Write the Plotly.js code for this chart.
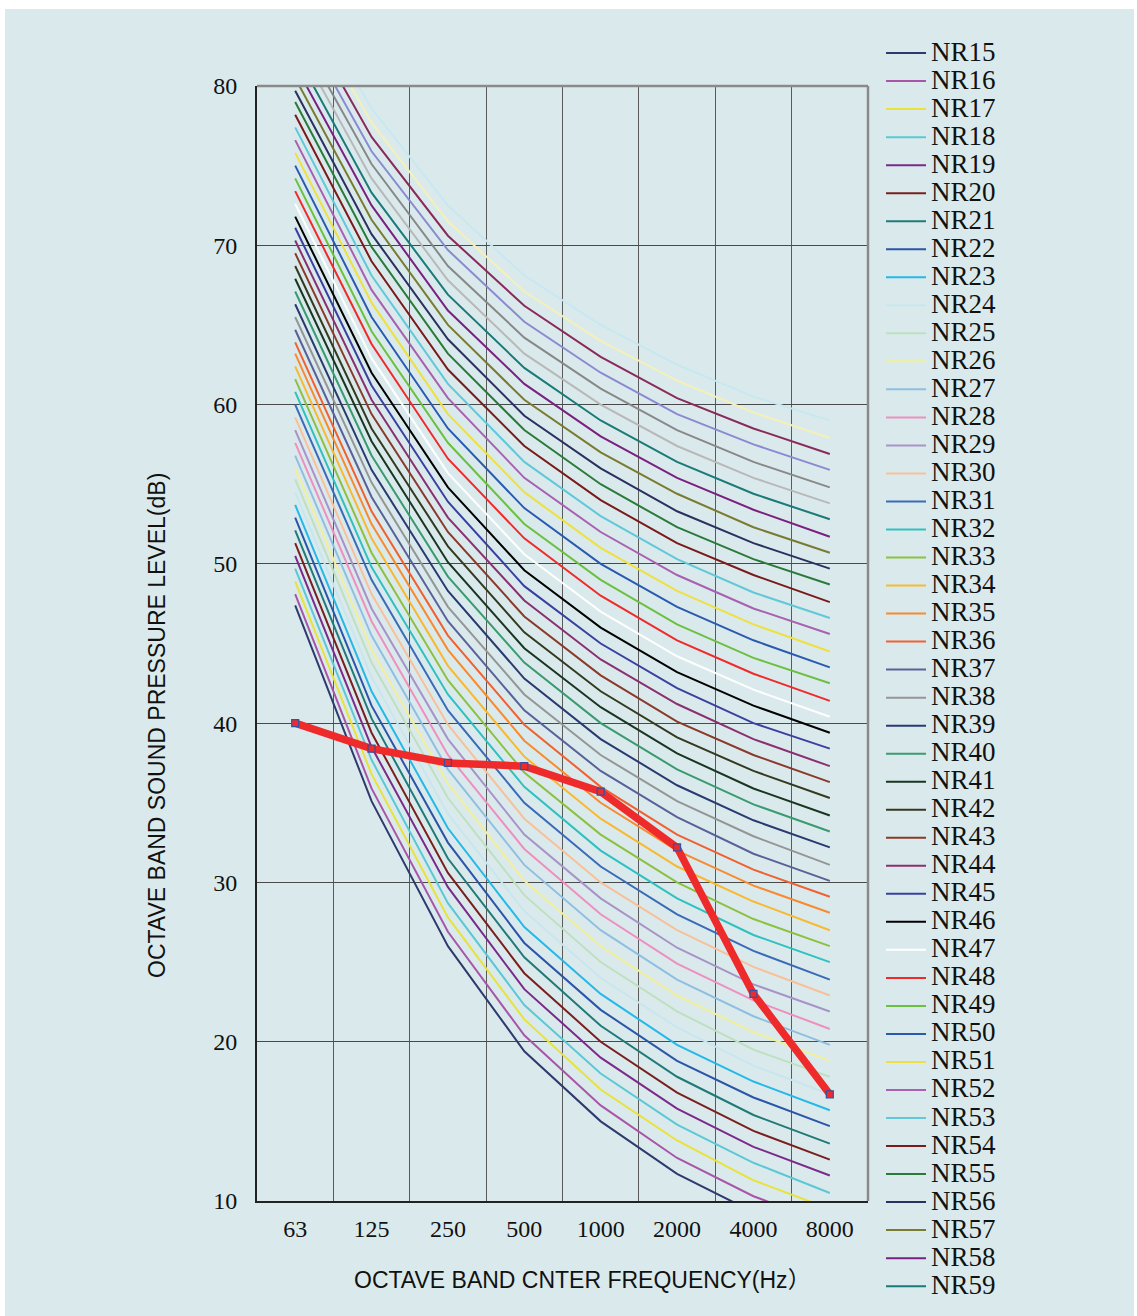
<!DOCTYPE html>
<html>
<head>
<meta charset="utf-8">
<script src="https://cdn.plot.ly/plotly-3.0.1.min.js"></script>
<style>
  html, body { margin: 0; padding: 0; background: #ffffff; }
  #chart { position: absolute; left: 5px; top: 9px; width: 1129px; height: 1307px; }
</style>
</head>
<body>
<div id="chart"></div>
<script>
// Octave band centre frequencies (category labels)
const freqs = ['63', '125', '250', '500', '1000', '2000', '4000', '8000'];

// Curve names NR15 ... NR65 (NR60-NR65 drawn but not listed in the legend)
const nrNames = ['NR15','NR16','NR17','NR18','NR19','NR20','NR21','NR22','NR23','NR24',
  'NR25','NR26','NR27','NR28','NR29','NR30','NR31','NR32','NR33','NR34',
  'NR35','NR36','NR37','NR38','NR39','NR40','NR41','NR42','NR43','NR44',
  'NR45','NR46','NR47','NR48','NR49','NR50','NR51','NR52','NR53','NR54',
  'NR55','NR56','NR57','NR58','NR59','NR60','NR61','NR62','NR63','NR64','NR65'];

// Sound pressure level (dB) of each curve, one array per octave band, NR15 ... NR65
const L63 = [47.4,48.1,48.9,49.7,50.5,51.3,52.1,52.9,53.7,54.5,55.3,56.0,56.8,57.6,58.4,59.2,60.0,60.8,61.6,62.4,
  63.2,63.9,64.7,65.5,66.3,67.1,67.9,68.7,69.5,70.3,71.1,71.8,72.6,73.4,74.2,75.0,75.8,76.6,77.4,78.2,
  79.0,79.7,80.5,81.3,82.1,82.9,83.7,84.5,85.3,86.1,86.9];
const L125 = [35.1,35.9,36.8,37.7,38.5,39.4,40.3,41.1,42.0,42.9,43.8,44.6,45.5,46.4,47.2,48.1,49.0,49.8,50.7,51.6,
  52.5,53.3,54.2,55.1,55.9,56.8,57.7,58.5,59.4,60.3,61.2,62.0,62.9,63.8,64.6,65.5,66.4,67.2,68.1,69.0,
  69.9,70.7,71.6,72.5,73.3,74.2,75.1,75.9,76.8,77.7,78.6];
const L250 = [26.0,26.9,27.8,28.7,29.7,30.6,31.5,32.5,33.4,34.3,35.3,36.2,37.1,38.0,39.0,39.9,40.8,41.8,42.7,43.6,
  44.6,45.5,46.4,47.3,48.3,49.2,50.1,51.1,52.0,52.9,53.9,54.8,55.7,56.6,57.6,58.5,59.4,60.4,61.3,62.2,
  63.2,64.1,65.0,65.9,66.9,67.8,68.7,69.7,70.6,71.5,72.5];
const L500 = [19.4,20.4,21.4,22.3,23.3,24.3,25.3,26.2,27.2,28.2,29.2,30.1,31.1,32.1,33.0,34.0,35.0,36.0,36.9,37.9,
  38.9,39.9,40.8,41.8,42.8,43.8,44.7,45.7,46.7,47.7,48.6,49.6,50.6,51.6,52.5,53.5,54.5,55.4,56.4,57.4,
  58.4,59.3,60.3,61.3,62.3,63.2,64.2,65.2,66.2,67.1,68.1];
const L1000 = [15,16,17,18,19,20,21,22,23,24,25,26,27,28,29,30,31,32,33,34,
  35,36,37,38,39,40,41,42,43,44,45,46,47,48,49,50,51,52,53,54,
  55,56,57,58,59,60,61,62,63,64,65];
const L2000 = [11.7,12.7,13.8,14.8,15.8,16.8,17.8,18.8,19.8,20.9,21.9,22.9,23.9,24.9,25.9,27.0,28.0,29.0,30.0,31.0,
  32.0,33.0,34.1,35.1,36.1,37.1,38.1,39.1,40.1,41.2,42.2,43.2,44.2,45.2,46.2,47.3,48.3,49.3,50.3,51.3,
  52.3,53.3,54.4,55.4,56.4,57.4,58.4,59.4,60.4,61.5,62.5];
const L4000 = [9.3,10.3,11.3,12.4,13.4,14.4,15.4,16.5,17.5,18.5,19.5,20.6,21.6,22.6,23.6,24.7,25.7,26.7,27.7,28.8,
  29.8,30.8,31.8,32.9,33.9,34.9,35.9,37.0,38.0,39.0,40.0,41.1,42.1,43.1,44.1,45.2,46.2,47.2,48.2,49.3,
  50.3,51.3,52.3,53.4,54.4,55.4,56.4,57.5,58.5,59.5,60.5];
const L8000 = [7.5,8.5,9.5,10.5,11.6,12.6,13.6,14.7,15.7,16.7,17.8,18.8,19.8,20.8,21.9,22.9,23.9,25.0,26.0,27.0,
  28.1,29.1,30.1,31.1,32.2,33.2,34.2,35.3,36.3,37.3,38.4,39.4,40.4,41.4,42.5,43.5,44.5,45.6,46.6,47.6,
  48.7,49.7,50.7,51.7,52.8,53.8,54.8,55.9,56.9,57.9,59.0];

// Measured spectrum (thick red line)
const measured = [40.0, 38.4, 37.5, 37.3, 35.7, 32.2, 23.0, 16.7];

// Axis title texts
const xTitle = 'OCTAVE BAND CNTER FREQUENCY(Hz<span style="font-family:\'Noto Sans CJK SC\'">）</span>';
const yTitle = 'OCTAVE BAND SOUND PRESSURE LEVEL(dB)';

// Styles
const curveColors = ['#2e3a6e','#a855a8','#e8e23a','#5bc8d4','#7b2a8a','#7a1f1f','#217a78','#2a55a8','#25b8e8','#c8e6ee',
  '#bfe0bf','#f2ef9a','#8fbfe0','#ee8fbf','#a893c8','#f8c09a','#3a6ab8','#30c0c0','#8cc040','#f8b830',
  '#f88a30','#f06030','#5a6098','#959595','#2a3a70','#3a9a70','#1a3520','#343a20','#8a3a2a','#8a3070',
  '#3a40a0','#000000','#ffffff','#f02a2a','#6cc040','#2a5ab0','#eee040','#a860b0','#60c8d8','#7a1a1a',
  '#2a7a3a','#2a3060','#7a7a30','#7a2080','#1a7a78','#b8b8b8','#888888','#8a8ad0','#8a2a5a','#f5f0b8','#c8e8f0'];
const legendCount = 45; // NR15 ... NR59 listed

const bands = [L63, L125, L250, L500, L1000, L2000, L4000, L8000];
const traces = nrNames.map((name, i) => ({
  type: 'scatter',
  mode: 'lines',
  x: freqs,
  y: bands.map(b => b[i]),
  name: '<span style="font-size:27px">' + name + '</span>',
  showlegend: i < legendCount,
  line: { color: curveColors[i], width: 2 },
  hoverinfo: 'skip'
}));

traces.push({
  type: 'scatter',
  mode: 'lines+markers',
  x: freqs,
  y: measured,
  name: 'measured',
  showlegend: false,
  line: { color: '#ee2a2a', width: 7.5 },
  marker: { symbol: 'square', size: 7, color: '#ee2a2a', line: { color: '#3550a5', width: 1.2 } }
});

const bg = '#daeaec';
const layout = {
  width: 1129,
  height: 1307,
  margin: { l: 252, r: 266, t: 77, b: 115, autoexpand: false },
  paper_bgcolor: bg,
  plot_bgcolor: bg,
  showlegend: true,
  font: { family: 'Liberation Serif, serif', color: '#111111' },
  xaxis: {
    type: 'category',
    categoryorder: 'array',
    categoryarray: freqs,
    range: [-0.5, 7.5],
    tickson: 'boundaries',
    showgrid: true,
    gridcolor: '#5a5a5a',
    gridwidth: 1,
    showline: true,
    linecolor: '#222222',
    linewidth: 2,
    zeroline: false,
    ticks: '',
    ticklabelstandoff: 5,
    tickfont: { family: 'Liberation Serif, serif', size: 24, color: '#111111' },
    fixedrange: true
  },
  yaxis: {
    range: [10, 80],
    dtick: 10,
    tick0: 10,
    showgrid: true,
    gridcolor: '#4a4a4a',
    gridwidth: 1,
    showline: true,
    linecolor: '#222222',
    linewidth: 2,
    zeroline: false,
    ticks: '',
    ticklabelstandoff: 13,
    tickfont: { family: 'Liberation Serif, serif', size: 24, color: '#111111' },
    fixedrange: true
  },
  annotations: [
    { text: xTitle, xref: 'paper', yref: 'paper', x: 0.1555, y: -0.0691,
      xanchor: 'left', yanchor: 'middle', showarrow: false,
      font: { family: 'Liberation Sans, sans-serif', size: 23, color: '#111111' } },
    { text: yTitle, xref: 'paper', yref: 'paper', x: -0.1637, y: 0.4269, textangle: -90,
      xanchor: 'center', yanchor: 'middle', showarrow: false,
      font: { family: 'Liberation Sans, sans-serif', size: 23, color: '#111111' } }
  ],
  shapes: [
    { type: 'line', xref: 'paper', yref: 'paper', x0: 0, x1: 1, y0: 1, y1: 1,
      line: { color: '#8a8a8a', width: 2.5 } },
    { type: 'line', xref: 'paper', yref: 'paper', x0: 1, x1: 1, y0: 0, y1: 1,
      line: { color: '#8a8a8a', width: 2.5 } }
  ],
  legend: {
    x: 1.0213,
    xanchor: 'left',
    y: 1.0466,
    yanchor: 'top',
    bgcolor: 'rgba(0,0,0,0)',
    borderwidth: 0,
    itemwidth: 40,
    maxheight: 1300,
    traceorder: 'normal',
    font: { family: 'Liberation Serif, serif', size: 19.25, color: '#111111' }
  }
};

Plotly.newPlot('chart', traces, layout, { displayModeBar: false, staticPlot: true });
</script>
</body>
</html>
